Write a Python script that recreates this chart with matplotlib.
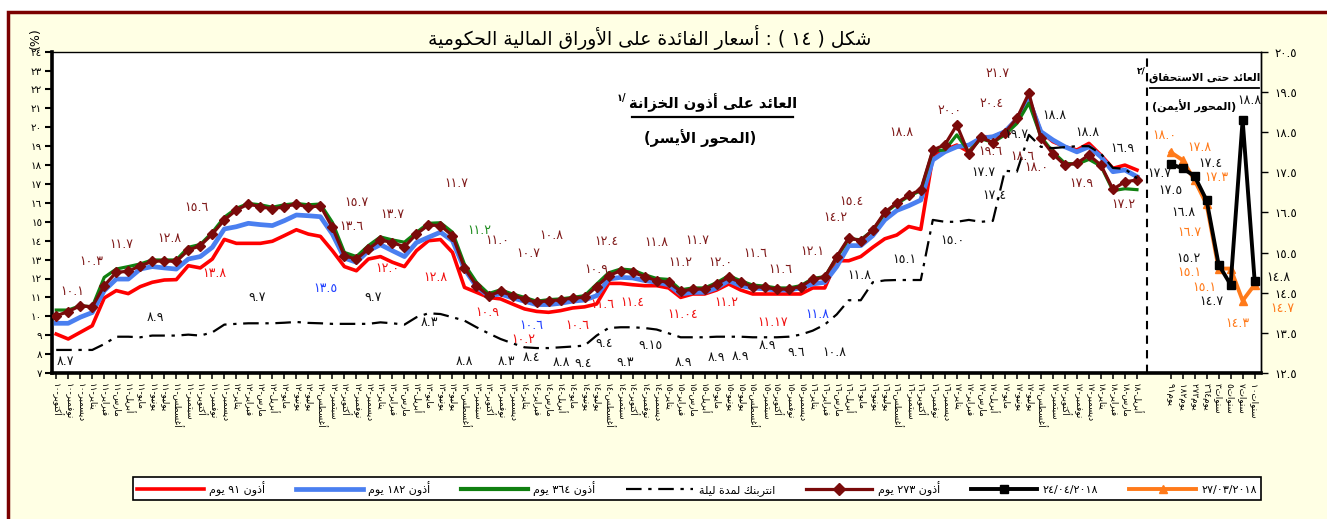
import matplotlib
matplotlib.use("Agg")
import matplotlib.pyplot as plt
from matplotlib.lines import Line2D
from matplotlib.patches import Rectangle

plt.rcParams['font.family'] = ['DejaVu Sans']

# ---------------------------------------------------------------- data
MONTHS = ["يناير", "فبراير", "مارس", "أبريل", "مايو", "يونيو",
          "يوليو", "أغسطس", "سبتمبر", "أكتوبر", "نوفمبر", "ديسمبر"]
START_MONTH = 9      # October
START_YEAR = 10      # 2010
N_MONTHS = 91        # Oct 2010 .. Apr 2018

tb91 = [9.06, 8.8, 9.15, 9.5, 10.97, 11.36, 11.2, 11.57, 11.8, 11.92, 11.94, 12.68, 12.56, 13.03,
        14.07, 13.86, 13.86, 13.86, 13.97, 14.27, 14.58, 14.35, 14.23, 13.47, 12.63, 12.41, 13.03,
        13.16, 12.86, 12.63, 13.47, 14.0, 14.06, 13.38, 11.53, 11.27, 11.0, 10.92, 10.65, 10.39,
        10.26, 10.21, 10.3, 10.44, 10.5, 10.65, 11.74, 11.74, 11.67, 11.62, 11.62, 11.5, 11.0,
        11.18, 11.18, 11.39, 11.71, 11.39, 11.18, 11.18, 11.18, 11.18, 11.18, 11.5, 11.5, 12.94,
        12.94, 13.16, 13.65, 14.1, 14.3, 14.75, 14.6, 18.44, 18.8, 19.06, 18.7, 19.5, 19.5, 19.77,
        20.47, 21.53, 19.77, 19.24, 18.97, 18.8, 19.15, 18.53, 17.83, 18.0, 17.74]
tb182 = [9.63, 9.63, 9.95, 10.2, 11.36, 11.97, 11.97, 12.5, 12.63, 12.56, 12.5, 13.03, 13.16, 13.65,
         14.62, 14.74, 14.92, 14.85, 14.8, 15.06, 15.36, 15.32, 15.27, 14.35, 13.08, 12.86, 13.47,
         13.79, 13.47, 13.16, 13.9, 14.18, 14.45, 14.0, 12.5, 11.57, 11.09, 11.18, 10.97, 10.8,
         10.62, 10.62, 10.69, 10.8, 10.86, 11.09, 11.97, 12.06, 12.03, 11.89, 11.8, 11.67, 11.18,
         11.27, 11.27, 11.5, 11.89, 11.62, 11.5, 11.45, 11.39, 11.39, 11.5, 11.71, 11.8, 12.63,
         13.74, 13.74, 14.27, 15.1, 15.6, 15.85, 16.15, 18.27, 18.7, 18.97, 19.06, 19.42, 19.5,
         19.77, 20.42, 21.44, 19.77, 19.33, 18.97, 18.7, 18.97, 18.44, 17.65, 17.74, 17.39]
tb364 = [10.33, 10.33, 10.56, 10.5, 12.06, 12.5, 12.63, 12.77, 12.98, 12.98, 12.98, 13.65, 13.8,
         14.44, 15.24, 15.71, 15.97, 15.9, 15.77, 15.9, 15.97, 15.9, 15.94, 14.97, 13.38, 13.16,
         13.74, 14.2, 14.04, 13.92, 14.44, 14.92, 14.95, 14.45, 12.75, 11.8, 11.2, 11.4, 11.18, 11.0,
         10.8, 10.88, 10.92, 11.0, 11.09, 11.7, 12.3, 12.5, 12.45, 12.2, 12.0, 11.95, 11.4, 11.5,
         11.5, 11.78, 12.15, 11.88, 11.65, 11.6, 11.5, 11.5, 11.62, 12.0, 12.1, 13.1, 14.1, 14.05,
         14.55, 15.45, 15.95, 16.35, 16.65, 18.75, 18.8, 19.6, 18.7, 19.4, 19.2, 19.6, 20.2, 21.28,
         19.5, 18.7, 18.1, 18.05, 18.3, 17.95, 16.65, 16.75, 16.7]
tb273 = [10.03, 10.25, 10.56, 10.5, 11.62, 12.33, 12.38, 12.68, 12.9, 12.94, 12.9, 13.5, 13.74,
         14.35, 15.1, 15.62, 15.94, 15.8, 15.68, 15.8, 15.94, 15.77, 15.85, 14.7, 13.2, 13.03,
         13.56, 14.04, 13.9, 13.68, 14.35, 14.83, 14.8, 14.27, 12.56, 11.62, 11.09, 11.32, 11.09,
         10.92, 10.74, 10.83, 10.86, 10.97, 11.0, 11.57, 12.15, 12.41, 12.33, 12.1, 11.89, 11.8,
         11.32, 11.44, 11.44, 11.71, 12.06, 11.8, 11.57, 11.53, 11.44, 11.44, 11.57, 11.97, 12.06,
         13.16, 14.15, 14.0, 14.57, 15.5, 16.0, 16.4, 16.7, 18.8, 19.07, 20.12, 18.59, 19.47, 19.19,
         19.72, 20.47, 21.8, 19.42, 18.59, 18.0, 18.1, 18.53, 18.0, 16.72, 17.12, 17.21]
interbank = [8.22, 8.22, 8.22, 8.22, 8.53, 8.92, 8.92, 8.89, 8.98, 8.98, 8.98, 9.03, 8.98, 9.15,
             9.56, 9.6, 9.63, 9.63, 9.63, 9.66, 9.7, 9.65, 9.63, 9.6, 9.6, 9.6, 9.6, 9.68, 9.63,
             9.56, 9.95, 10.16, 10.12, 9.95, 9.77, 9.42, 9.1, 8.8, 8.57, 8.36, 8.32, 8.32, 8.36,
             8.4, 8.45, 8.98, 9.38, 9.42, 9.42, 9.38, 9.3, 9.1, 8.89, 8.89, 8.89, 8.92, 8.92, 8.92,
             8.89, 8.89, 8.89, 8.92, 9.03, 9.24, 9.56, 10.1, 10.85, 10.85, 11.8, 11.9, 11.92, 11.92,
             11.92, 15.1, 15.0, 15.0, 15.1, 15.0, 15.05, 17.7, 17.65, 19.6, 18.97, 18.9, 18.95,
             19.0, 19.0, 18.6, 17.85, 17.8, 17.3]

# yield curve (right axis)
yc_labels = ["٩١ يوم", "١٨٢ يوم", "٢٧٣ يوم", "٣٦٤ يوم",
             "٣ سنوات", "٥ سنوات", "٧ سنوات", "١٠ سنوات"]
yc_apr = [17.7, 17.6, 17.4, 16.8, 15.2, 14.7, 18.8, 14.8]     # 24/04/2018
yc_mar = [18.0, 17.8, 17.3, 16.7, 15.1, 15.1, 14.3, 14.7]     # 27/03/2018

left_ticks = list(range(7, 25))
right_ticks = [12.5, 13.5, 14.5, 15.5, 16.5, 17.5, 18.5, 19.5, 20.5]

# ---------------------------------------------------------------- arabic helpers
FORMS = {
    '\u0622': ('\uFE81', '\uFE82', None, None), '\u0623': ('\uFE83', '\uFE84', None, None),
    '\u0624': ('\uFE85', '\uFE86', None, None), '\u0625': ('\uFE87', '\uFE88', None, None),
    '\u0626': ('\uFE89', '\uFE8A', '\uFE8B', '\uFE8C'), '\u0627': ('\uFE8D', '\uFE8E', None, None),
    '\u0628': ('\uFE8F', '\uFE90', '\uFE91', '\uFE92'), '\u0629': ('\uFE93', '\uFE94', None, None),
    '\u062A': ('\uFE95', '\uFE96', '\uFE97', '\uFE98'), '\u062B': ('\uFE99', '\uFE9A', '\uFE9B', '\uFE9C'),
    '\u062C': ('\uFE9D', '\uFE9E', '\uFE9F', '\uFEA0'), '\u062D': ('\uFEA1', '\uFEA2', '\uFEA3', '\uFEA4'),
    '\u062E': ('\uFEA5', '\uFEA6', '\uFEA7', '\uFEA8'), '\u062F': ('\uFEA9', '\uFEAA', None, None),
    '\u0630': ('\uFEAB', '\uFEAC', None, None), '\u0631': ('\uFEAD', '\uFEAE', None, None),
    '\u0632': ('\uFEAF', '\uFEB0', None, None), '\u0633': ('\uFEB1', '\uFEB2', '\uFEB3', '\uFEB4'),
    '\u0634': ('\uFEB5', '\uFEB6', '\uFEB7', '\uFEB8'), '\u0635': ('\uFEB9', '\uFEBA', '\uFEBB', '\uFEBC'),
    '\u0636': ('\uFEBD', '\uFEBE', '\uFEBF', '\uFEC0'), '\u0637': ('\uFEC1', '\uFEC2', '\uFEC3', '\uFEC4'),
    '\u0638': ('\uFEC5', '\uFEC6', '\uFEC7', '\uFEC8'), '\u0639': ('\uFEC9', '\uFECA', '\uFECB', '\uFECC'),
    '\u063A': ('\uFECD', '\uFECE', '\uFECF', '\uFED0'), '\u0641': ('\uFED1', '\uFED2', '\uFED3', '\uFED4'),
    '\u0642': ('\uFED5', '\uFED6', '\uFED7', '\uFED8'), '\u0643': ('\uFED9', '\uFEDA', '\uFEDB', '\uFEDC'),
    '\u0644': ('\uFEDD', '\uFEDE', '\uFEDF', '\uFEE0'), '\u0645': ('\uFEE1', '\uFEE2', '\uFEE3', '\uFEE4'),
    '\u0646': ('\uFEE5', '\uFEE6', '\uFEE7', '\uFEE8'), '\u0647': ('\uFEE9', '\uFEEA', '\uFEEB', '\uFEEC'),
    '\u0648': ('\uFEED', '\uFEEE', None, None), '\u0649': ('\uFEEF', '\uFEF0', None, None),
    '\u064A': ('\uFEF1', '\uFEF2', '\uFEF3', '\uFEF4'),
}
LAM_ALEF = {'\u0622': ('\uFEF5', '\uFEF6'), '\u0623': ('\uFEF7', '\uFEF8'),
            '\u0625': ('\uFEF9', '\uFEFA'), '\u0627': ('\uFEFB', '\uFEFC')}
MIRROR = {'(': ')', ')': '(', '[': ']', ']': '['}
LTR_SET = set('0123456789٠١٢٣٤٥٦٧٨٩./%')


def shape(s):
    toks, i = [], 0
    while i < len(s):
        if s[i] == '\u0644' and i + 1 < len(s) and s[i + 1] in LAM_ALEF:
            toks.append(('LA', s[i + 1]))
            i += 2
        else:
            toks.append(s[i])
            i += 1
    out = []
    for k, t in enumerate(toks):
        prev = toks[k - 1] if k > 0 else None
        nxt = toks[k + 1] if k + 1 < len(toks) else None
        jp = isinstance(prev, str) and prev in FORMS and FORMS[prev][2] is not None
        if isinstance(t, tuple):
            out.append(LAM_ALEF[t[1]][1 if jp else 0])
            continue
        if t not in FORMS:
            out.append(t)
            continue
        f = FORMS[t]
        jn = f[2] is not None and nxt is not None and (isinstance(nxt, tuple) or nxt in FORMS)
        if jp and jn:
            out.append(f[3])
        elif jp:
            out.append(f[1])
        elif jn:
            out.append(f[2])
        else:
            out.append(f[0])
    return ''.join(out)


def visual(s, base='rtl'):
    t = shape(s)
    runs = []
    for ch in t:
        l = ch in LTR_SET
        if runs and runs[-1][0] == l:
            runs[-1][1].append(ch)
        else:
            runs.append([l, [ch]])
    parts = [''.join(c) if l else ''.join(MIRROR.get(x, x) for x in reversed(c)) for l, c in runs]
    if base == 'rtl':
        parts = parts[::-1]
    return ''.join(parts)


def ar(s):
    return s.translate(str.maketrans('0123456789', '٠١٢٣٤٥٦٧٨٩'))


# category labels
cat_labels = []
m, y = START_MONTH, START_YEAR
for _ in range(N_MONTHS):
    cat_labels.append(MONTHS[m] + "-" + ar(str(y)))
    m += 1
    if m == 12:
        m, y = 0, y + 1

# ---------------------------------------------------------------- figure
W, H = 1327, 519
fig = plt.figure(figsize=(W / 100, H / 100), dpi=100, facecolor='white')


def fx(px):
    return px / W


def fy(py):
    return 1 - py / H


CREAM = '#FFFFE4'
fig.add_artist(Rectangle((fx(8), -0.2), 1.5, fy(12) + 0.2, transform=fig.transFigure,
                         facecolor=CREAM, edgecolor='#7B0000', lw=2.5, zorder=-10))

ax = fig.add_axes([fx(52), fy(373), fx(1261) - fx(52), fy(51.7) - fy(373)])
ax.set_facecolor('white')
XMIN, XMAX = -0.35, 100.33
RIGHT_X0 = 92.8
DIVIDER = 90.84
ax.set_xlim(XMIN, XMAX)
ax.set_ylim(7, 24)

xs = list(range(N_MONTHS))
C_RED, C_BLUE, C_GREEN, C_DR = '#FF0000', '#4A7FF0', '#108010', '#7A0A0A'
C_ORANGE = '#FF7A1A'

ax.plot(xs, tb91, color=C_RED, lw=2.6, zorder=3)
ax.plot(xs, tb182, color=C_BLUE, lw=3.4, zorder=3)
ax.plot(xs, tb364, color=C_GREEN, lw=2.3, zorder=4)
ax.plot(xs, tb273, color=C_DR, lw=2.3, marker='D', ms=5.5, zorder=5)
ax.plot(xs, interbank, color='black', lw=1.6, dashes=(7, 3, 1.5, 3), zorder=6)

ax.axvline(DIVIDER, color='black', lw=1.5, dashes=(4, 3), zorder=2)

ax.set_yticks(left_ticks)
ax.set_yticklabels([ar(str(v)) for v in left_ticks], fontsize=7.5)
ax.tick_params(axis='y', length=5, width=1.5, pad=2)

xt = xs + [RIGHT_X0 + j for j in range(len(yc_labels))]
xl = [visual(s, 'rtl') for s in cat_labels] + [visual(s, 'ltr') for s in yc_labels]
ax.set_xticks(xt)
ax.set_xticklabels(xl, rotation=-90, fontsize=6.3)
ax.tick_params(axis='x', length=4, width=1.1, pad=3)

ax.spines['left'].set_linewidth(2.6)
ax.spines['bottom'].set_linewidth(2.6)
ax.spines['top'].set_linewidth(1.0)
ax.spines['right'].set_linewidth(1.0)

ax2 = ax.twinx()
ax2.set_ylim(12.5, 20.5)
ax2.set_yticks(right_ticks)
ax2.set_yticklabels([ar(f"{v:.1f}") for v in right_ticks], fontsize=8.5)
ax2.tick_params(axis='y', length=5, width=1.0, pad=5)
for sp in ['left', 'top', 'bottom']:
    ax2.spines[sp].set_visible(False)
ax2.spines['right'].set_linewidth(1.0)
yx = [RIGHT_X0 + j for j in range(len(yc_labels))]
ax2.plot(yx, yc_mar, color=C_ORANGE, lw=2.8, marker='^', ms=6, zorder=5)
ax2.plot(yx, yc_apr, color='black', lw=2.8, marker='s', ms=6, zorder=6)

# ---------------------------------------------------------------- data labels
DR_T, RED_T, BLUE_T, GREEN_T, BLK_T = '#7F1A1A', '#F01010', '#1F3FFF', '#1E8C1E', '#111111'
left_labels = [
    ('10.1', 1.3, 11.3, DR_T), ('10.3', 2.9, 12.9, DR_T), ('11.7', 5.4, 13.8, DR_T),
    ('12.8', 9.4, 14.1, DR_T), ('15.6', 11.7, 15.75, DR_T), ('15.7', 25.0, 16.0, DR_T),
    ('13.6', 24.6, 14.75, DR_T), ('13.7', 28.0, 15.4, DR_T), ('11.7', 33.3, 17.05, DR_T),
    ('11.0', 36.7, 14.0, DR_T), ('10.7', 39.3, 13.3, DR_T), ('10.8', 41.2, 14.25, DR_T),
    ('10.9', 45.0, 12.45, DR_T), ('12.4', 45.8, 13.97, DR_T), ('11.8', 50.0, 13.9, DR_T),
    ('11.7', 53.4, 14.0, DR_T), ('11.2', 52.0, 12.87, DR_T), ('12.0', 55.3, 12.87, DR_T),
    ('11.6', 58.2, 13.3, DR_T), ('11.6', 60.3, 12.5, DR_T), ('12.1', 63.0, 13.45, DR_T),
    ('15.4', 66.2, 16.05, DR_T), ('14.2', 64.9, 15.25, DR_T), ('18.8', 70.4, 19.7, DR_T),
    ('20.0', 74.4, 20.9, DR_T), ('20.4', 77.9, 21.28, DR_T), ('21.7', 78.4, 22.86, DR_T),
    ('19.6', 77.8, 18.7, DR_T), ('18.6', 80.5, 18.43, DR_T), ('18.0', 81.6, 17.85, DR_T),
    ('17.9', 85.4, 17.05, DR_T), ('17.2', 88.9, 15.9, DR_T),
    ('13.8', 13.2, 12.28, RED_T), ('12.0', 27.6, 12.55, RED_T), ('12.8', 31.6, 12.07, RED_T),
    ('10.9', 35.9, 10.2, RED_T), ('10.2', 38.9, 8.75, RED_T), ('10.6', 43.4, 9.5, RED_T),
    ('11.6', 45.5, 10.6, RED_T), ('11.4', 48.0, 10.75, RED_T), ('11.04', 52.2, 10.07, RED_T),
    ('11.2', 55.8, 10.75, RED_T), ('11.17', 59.7, 9.65, RED_T),
    ('13.5', 22.4, 11.45, BLUE_T), ('10.6', 39.6, 9.5, BLUE_T), ('11.8', 63.4, 10.1, BLUE_T),
    ('11.2', 35.2, 14.55, GREEN_T),
    ('8.7', 0.8, 7.6, BLK_T), ('8.9', 8.3, 9.95, BLK_T), ('9.7', 16.7, 11.0, BLK_T),
    ('9.7', 26.4, 11.0, BLK_T), ('8.3', 31.1, 9.65, BLK_T), ('8.8', 34.0, 7.6, BLK_T),
    ('8.3', 37.5, 7.6, BLK_T), ('8.4', 39.6, 7.84, BLK_T), ('8.8', 42.1, 7.55, BLK_T),
    ('9.4', 43.9, 7.5, BLK_T), ('9.4', 45.6, 8.58, BLK_T), ('9.3', 47.4, 7.58, BLK_T),
    ('9.15', 49.5, 8.48, BLK_T), ('8.9', 52.2, 7.58, BLK_T), ('8.9', 55.0, 7.8, BLK_T),
    ('8.9', 57.0, 7.85, BLK_T), ('8.9', 59.2, 8.48, BLK_T), ('9.6', 61.6, 8.1, BLK_T),
    ('10.8', 64.8, 8.1, BLK_T), ('11.8', 66.9, 12.18, BLK_T), ('15.1', 70.6, 13.0, BLK_T),
    ('15.0', 74.6, 14.0, BLK_T), ('17.4', 78.1, 16.4, BLK_T), ('17.7', 77.2, 17.6, BLK_T),
    ('19.7', 80.0, 19.6, BLK_T), ('18.8', 83.1, 20.65, BLK_T), ('18.8', 85.9, 19.75, BLK_T),
    ('16.9', 88.8, 18.9, BLK_T),
]
for t, k, v, c in left_labels:
    ax.text(k, v, ar(t), color=c, fontsize=9, ha='center', va='center', zorder=7)

right_labels = [
    ('17.7', -0.95, 17.47, BLK_T), ('17.5', 0.0, 17.04, BLK_T), ('17.4', 3.3, 17.72, BLK_T),
    ('16.8', 1.1, 16.5, BLK_T), ('15.2', 1.5, 15.36, BLK_T), ('14.7', 3.4, 14.29, BLK_T),
    ('18.8', 6.6, 19.29, BLK_T), ('14.8', 9.0, 14.87, BLK_T),
    ('18.0', -0.55, 18.42, C_ORANGE), ('17.8', 2.4, 18.12, C_ORANGE), ('17.3', 3.8, 17.37, C_ORANGE),
    ('16.7', 1.6, 15.99, C_ORANGE), ('15.1', 1.6, 14.99, C_ORANGE), ('15.1', 2.85, 14.64, C_ORANGE),
    ('14.3', 5.6, 13.74, C_ORANGE), ('14.7', 9.35, 14.11, C_ORANGE),
]
for t, j, v, c in right_labels:
    ax2.text(RIGHT_X0 + j, v, ar(t), color=c, fontsize=9, ha='center', va='center', zorder=7)

# ---------------------------------------------------------------- titles / notes
fig.text(fx(650), fy(38), visual("شكل ( ١٤ ) : أسعار الفائدة على الأوراق المالية الحكومية"),
         fontsize=13.5, ha='center', va='center')
fig.text(fx(35), fy(38), "(%)", rotation=90, fontsize=9, ha='center', va='center')

fig.text(fx(713), fy(103), visual("العائد على أذون الخزانة"), fontsize=10.5,
         fontweight='bold', ha='center', va='center')
fig.add_artist(Line2D([fx(632), fx(793)], [fy(117), fy(117)], color='black', lw=1.6,
                      transform=fig.transFigure))
fig.text(fx(621), fy(98), ar("1/"), fontsize=7, fontweight='bold', ha='center', va='center')
fig.text(fx(700), fy(138), visual("(المحور الأيسر)"), fontsize=10.5, fontweight='bold',
         ha='center', va='center')

fig.text(fx(1205), fy(78), visual("العائد حتى الاستحقاق"), fontsize=7.6,
         fontweight='bold', ha='center', va='center')
fig.add_artist(Line2D([fx(1150), fx(1259)], [fy(88), fy(88)], color='black', lw=1.3,
                      transform=fig.transFigure))
fig.text(fx(1141), fy(71), ar("2/"), fontsize=6.5, fontweight='bold', ha='center', va='center')
fig.text(fx(1194), fy(106), visual("(المحور الأيمن)"), fontsize=8, fontweight='bold',
         ha='center', va='center')

# ---------------------------------------------------------------- legend
handles = [
    Line2D([], [], color=C_RED, lw=2.6),
    Line2D([], [], color=C_BLUE, lw=3.4),
    Line2D([], [], color=C_GREEN, lw=3.0),
    Line2D([], [], color='black', lw=1.6, dashes=(7, 3, 1.5, 3)),
    Line2D([], [], color=C_DR, lw=2.3, marker='D', ms=6),
    Line2D([], [], color='black', lw=2.8, marker='s', ms=6),
    Line2D([], [], color=C_ORANGE, lw=2.8, marker='^', ms=6),
]
labels = [visual("أذون ٩١ يوم"), visual("أذون ١٨٢ يوم"), visual("أذون ٣٦٤ يوم"),
          visual("انتربنك لمدة ليلة"), visual("أذون ٢٧٣ يوم"), "٢٤/٠٤/٢٠١٨", "٢٧/٠٣/٢٠١٨"]
leg = fig.legend(handles, labels, loc='lower left', ncol=7, mode='expand',
                 bbox_to_anchor=(fx(133), fy(500), fx(1261) - fx(133), fy(476) - fy(500)),
                 borderaxespad=0, fontsize=8, handlelength=6, numpoints=1, frameon=True,
                 fancybox=False, edgecolor='black', facecolor='white', framealpha=1,
                 handletextpad=0.5, borderpad=0.35)
leg.get_frame().set_linewidth(1.2)

fig.savefig("out.png", dpi=100, facecolor=fig.get_facecolor())
